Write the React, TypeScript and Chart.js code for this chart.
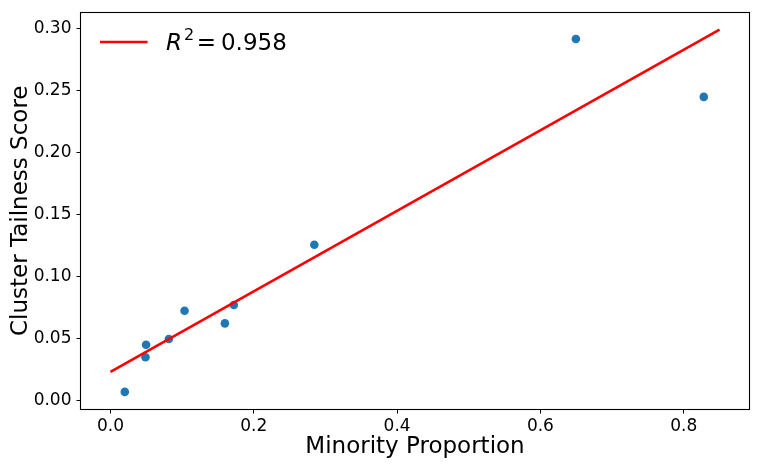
import React, { useEffect, useRef } from "react";
import { Chart, registerables } from "chart.js";

Chart.register(...registerables);

// ---- data ----
const minorityProportion = [0.02, 0.0489, 0.0497, 0.0815, 0.1034, 0.1597, 0.1722, 0.2845, 0.6495, 0.828];
const tailnessScore = [0.0069, 0.0348, 0.045, 0.0496, 0.0724, 0.0622, 0.077, 0.1256, 0.2916, 0.2449];
const fitX = [0, 0.85];
const fitY = [0.023, 0.2992];
const rSquaredValue = "0.958";
const xTitle = "Minority Proportion";
const yTitle = "Cluster Tailness Score";
const xRange = [-0.0425, 0.8925];
const yRange = [-0.0077, 0.3138];

const FONT = '"DejaVu Sans", "Noto Sans", sans-serif';

const framePlugin = {
  id: "frameAndLegend",
  afterDraw(chart: any) {
    const { ctx, chartArea: a } = chart;
    ctx.save();
    // frame
    const L = Math.round(a.left) + 0.5;
    const T = Math.round(a.top) + 0.5;
    const R = Math.round(a.right) - 0.5;
    const B = Math.round(a.bottom) - 0.5;
    ctx.strokeStyle = "#000";
    ctx.lineWidth = 1.1;
    ctx.strokeRect(L, T, R - L, B - T);

    // legend
    const lx = a.left + 20;
    const ly = a.top + 30.5;
    ctx.strokeStyle = "#ff0000";
    ctx.lineWidth = 2.5;
    ctx.beginPath();
    ctx.moveTo(lx, ly);
    ctx.lineTo(lx + 47.6, ly);
    ctx.stroke();

    ctx.fillStyle = "#000";
    ctx.textBaseline = "alphabetic";
    ctx.textAlign = "left";
    const base = a.top + 38.5;
    let x = a.left + 86;
    ctx.font = `italic 23px ${FONT}`;
    ctx.fillText("R", x, base);
    x += ctx.measureText("R").width + 2;
    ctx.font = `16px ${FONT}`;
    ctx.fillText("2", x, base - 10);
    x += ctx.measureText("2").width + 2.5;
    ctx.font = `23px ${FONT}`;
    ctx.fillText("=", x, base);
    x += ctx.measureText("=").width + 5;
    ctx.fillText(rSquaredValue, x, base);
    ctx.restore();
  },
};

export default function App() {
  const ref = useRef<HTMLCanvasElement | null>(null);

  useEffect(() => {
    if (!ref.current) return;
    const chart = new Chart(ref.current, {
      type: "scatter",
      data: {
        datasets: [
          {
            type: "line",
            label: "fit",
            data: fitX.map((x, i) => ({ x, y: fitY[i] })),
            borderColor: "#ff0000",
            borderWidth: 2.6,
            pointRadius: 0,
            fill: false,
            order: 0,
          } as any,
          {
            type: "scatter",
            label: "points",
            data: minorityProportion.map((x, i) => ({ x, y: tailnessScore[i] })),
            backgroundColor: "#1f77b4",
            borderColor: "#1f77b4",
            borderWidth: 0,
            pointRadius: 4.3,
            order: 1,
          },
        ],
      },
      options: {
        animation: false,
        responsive: true,
        maintainAspectRatio: false,
        layout: { padding: { left: 0, right: 11, top: 11.5, bottom: 0 } },
        plugins: {
          legend: { display: false },
          tooltip: { enabled: false },
        },
        scales: {
          x: {
            type: "linear",
            min: xRange[0],
            max: xRange[1],
            afterFit: (s: any) => {
              s.height = 61;
              s.paddingLeft = 0;
              s.paddingRight = 0;
            },
            border: { display: false },
            grid: {
              display: true,
              drawOnChartArea: false,
              drawTicks: true,
              tickLength: 3.5,
              tickColor: "#000",
              tickWidth: 1,
            },
            ticks: {
              stepSize: 0.2,
              includeBounds: false,
              color: "#000",
              padding: 3,
              maxRotation: 0,
              font: { family: FONT, size: 17 },
              callback: (v: any) => Number(v).toFixed(1),
            },
            title: {
              display: true,
              text: xTitle,
              color: "#000",
              font: { family: FONT, size: 23 },
              padding: { top: 0, bottom: 10 },
            },
          },
          y: {
            type: "linear",
            min: yRange[0],
            max: yRange[1],
            afterFit: (s: any) => {
              s.width = 80;
              s.paddingTop = 0;
              s.paddingBottom = 0;
            },
            border: { display: false },
            grid: {
              display: true,
              drawOnChartArea: false,
              drawTicks: true,
              tickLength: 3.5,
              tickColor: "#000",
              tickWidth: 1,
            },
            ticks: {
              stepSize: 0.05,
              includeBounds: false,
              color: "#000",
              padding: 5,
              font: { family: FONT, size: 17 },
              callback: (v: any) => Number(v).toFixed(2),
            },
            title: {
              display: true,
              text: yTitle,
              color: "#000",
              font: { family: FONT, size: 23 },
              padding: { top: 7, bottom: 0 },
            },
          },
        },
      },
      plugins: [framePlugin],
    });
    return () => chart.destroy();
  }, []);

  return (
    <div style={{ position: "fixed", left: 0, top: 0, width: 761, height: 471, background: "#fff" }}>
      <canvas ref={ref} />
    </div>
  );
}
